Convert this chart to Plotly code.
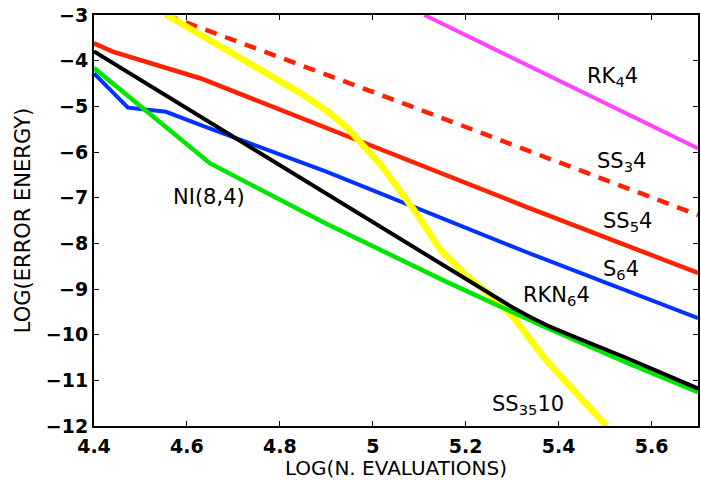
import plotly.graph_objects as go

# Data
rk4_x = [5.111, 5.70]
rk4_y = [-3.0, -5.92]

ss3_x = [4.555, 5.067, 5.70]
ss3_y = [-3.0, -4.94, -7.38]

ss5_x = [4.40, 4.44, 4.63, 4.90, 5.33, 5.70]
ss5_y = [-3.62, -3.80, -4.39, -5.48, -7.20, -8.65]

s6_x = [4.40, 4.473, 4.51, 4.555, 4.63, 4.90, 5.33, 5.70]
s6_y = [-4.28, -5.03, -5.07, -5.12, -5.41, -6.43, -8.19, -9.64]

rkn6_x = [4.40, 5.25, 5.30, 5.34, 5.38, 5.43, 5.49, 5.544, 5.62, 5.70]
rkn6_y = [-3.80, -9.10, -9.40, -9.62, -9.82, -10.03, -10.27, -10.50, -10.83, -11.18]

ni_x = [4.40, 4.65, 4.90, 5.16, 5.37, 5.544, 5.70]
ni_y = [-4.16, -6.25, -7.57, -8.85, -9.83, -10.60, -11.26]

ss35_x = [4.556, 4.844, 4.904, 4.943, 5.018, 5.089, 5.146, 5.203, 5.267, 5.302, 5.373, 5.44, 5.503]
ss35_y = [-3.0, -4.71, -5.12, -5.45, -6.29, -7.27, -8.15, -8.72, -9.25, -9.61, -10.56, -11.30, -12.0]

labels = ["RK<sub>4</sub>4", "SS<sub>3</sub>4", "SS<sub>5</sub>4", "S<sub>6</sub>4",
          "RKN<sub>6</sub>4", "SS<sub>35</sub>10", "NI(8,4)"]
label_x = [5.516, 5.535, 5.548, 5.535, 5.395, 5.335, 4.648]
label_y = [-4.36, -6.22, -7.53, -8.59, -9.16, -11.55, -6.99]

x_ticks = [4.4, 4.6, 4.8, 5.0, 5.2, 5.4, 5.6]
x_tick_text = ["4.4", "4.6", "4.8", "5", "5.2", "5.4", "5.6"]
y_ticks = [-3, -4, -5, -6, -7, -8, -9, -10, -11, -12]

FONT = "DejaVu Sans"

fig = go.Figure()

def add(x, y, color, width, dash="solid"):
    fig.add_trace(go.Scatter(x=x, y=y, mode="lines",
                             line=dict(color=color, width=width, dash=dash),
                             showlegend=False, hoverinfo="skip"))

add(rk4_x, rk4_y, "#ff44ff", 4)
add(ss3_x, ss3_y, "#ff2200", 4.5, "12px,9px")
add(ss5_x, ss5_y, "#ff2200", 4.5)
add(s6_x, s6_y, "#0033ff", 4)
add(ss35_x, ss35_y, "#ffff00", 6.5)
add(ni_x, ni_y, "#00e600", 4.5)
add(rkn6_x, rkn6_y, "#000000", 4)

for t, lx, ly in zip(labels, label_x, label_y):
    fig.add_annotation(x=lx, y=ly, text=t, showarrow=False,
                       font=dict(family=FONT, size=21, color="black"))

fig.update_layout(
    width=701, height=480,
    margin=dict(l=94, r=1, t=15, b=54),
    paper_bgcolor="white", plot_bgcolor="white",
    xaxis=dict(range=[4.4, 5.7], tickvals=x_ticks, ticktext=x_tick_text,
               ticks="inside", ticklen=5, tickcolor="black", mirror="ticks",
               ticklabelstandoff=2,
               showline=True, linecolor="black", linewidth=2, showgrid=False, zeroline=False,
               tickfont=dict(family=FONT, size=19, color="black", weight="bold"),
               title=dict(text="LOG(N. EVALUATIONS)", standoff=3,
                          font=dict(family=FONT, size=20, color="black"))),
    yaxis=dict(range=[-12, -3], tickvals=y_ticks,
               ticks="inside", ticklen=5, tickcolor="black", mirror="ticks",
               showline=True, linecolor="black", linewidth=2, showgrid=False, zeroline=False,
               tickfont=dict(family=FONT, size=19, color="black", weight="bold"),
               title=dict(text="LOG(ERROR ENERGY)", standoff=9,
                          font=dict(family=FONT, size=21, color="black"))),
)

fig.write_html("out.html")
